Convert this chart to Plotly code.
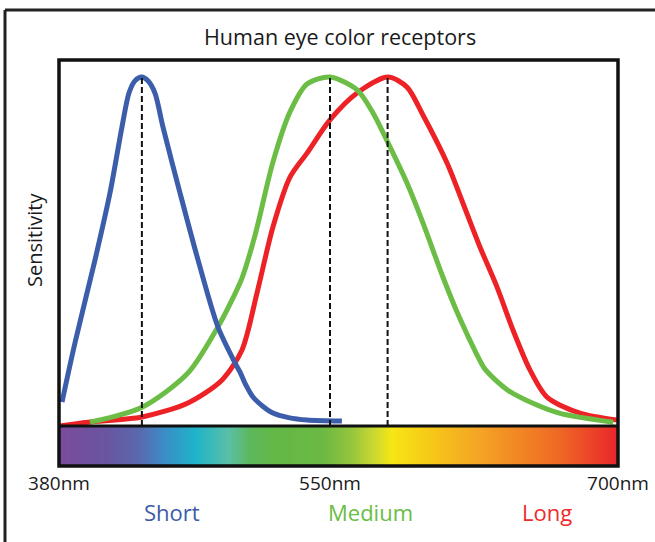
import numpy as np
import plotly.graph_objects as go

# ---------------- data ----------------
title_text = "Human eye color receptors"
tick_nm = [380, 550, 700]
tick_labels = ["380nm", "550nm", "700nm"]
cone_names = ["Short", "Medium", "Long"]
peak_nm = [432, 550, 580]

short_nm = [381.9, 390.0, 402.6, 412.0, 419.5, 423.9, 427.6, 431.9, 435.8, 440.2,
            445.2, 455.9, 467.2, 479.7, 490.4, 493.5, 497.2, 501.7, 508.0, 514.2,
            524.0, 535.6, 556.2]
short_s = [0.069, 0.238, 0.476, 0.668, 0.857, 0.954, 0.989, 1.0, 0.989, 0.954,
           0.857, 0.668, 0.476, 0.284, 0.181, 0.155, 0.118, 0.083, 0.056, 0.037,
           0.024, 0.017, 0.014]

medium_nm = [399.4, 432.1, 460.9, 479.7, 487.3, 494.8, 503.0, 514.2, 524.9, 535.6,
             550.0, 564.1, 572.4, 581.3, 590.1, 598.4, 609.0, 617.3, 626.1,
             630.3, 635.0, 643.3, 652.2, 669.4, 697.5]
medium_s = [0.011, 0.054, 0.152, 0.284, 0.350, 0.424, 0.547, 0.756, 0.900, 0.980,
            1.0, 0.963, 0.897, 0.799, 0.696, 0.582, 0.424, 0.312, 0.209,
            0.166, 0.138, 0.100, 0.074, 0.037, 0.011]

long_nm = [380.6, 398.2, 432.1, 460.9, 482.3, 494.8, 504.2, 514.2, 524.9, 535.6,
           550.0, 564.1, 580.2, 590.1, 598.4, 610.9, 619.2, 628.1, 637.0,
           645.3, 654.2, 663.0, 680.2, 699.5]
long_s = [0.0, 0.011, 0.026, 0.066, 0.132, 0.218, 0.381, 0.570, 0.713, 0.782,
          0.877, 0.954, 1.0, 0.971, 0.891, 0.754, 0.639, 0.513, 0.398,
          0.275, 0.160, 0.083, 0.037, 0.017]

spectrum_nm = [380, 408.9, 429.6, 446.5, 465.3, 486.0, 499.8, 514.2, 545.6, 560.4,
               572.4, 582.3, 602.1, 628.1, 645.3, 668.2, 685.4, 700]
spectrum_colors = ["#7a4b9c", "#6a55a0", "#5a68ad", "#3a8ec8", "#1db4c8", "#5bbfa8",
                   "#5cb85a", "#63b847", "#6cb944", "#93c43d", "#c9d831", "#f6e614",
                   "#f6c818", "#f5a325", "#f28a24", "#ef6a25", "#ec4528", "#e8232a"]

# ---------------- styling ----------------
colors = ["#3c5daa", "#6cbd45", "#ed2226"]
label_colors = ["#3b5ba8", "#6abd45", "#ee2a2b"]
FONT = "Open Sans"
TXT = "#1a1a1a"

W, H = 655, 542
ML, MR, MT, MB = 59, 37, 60, 76
PW, PH = W - ML - MR, H - MT - MB
BAR_H = 40
split = BAR_H / PH


def pos(nm):
    # the picture's wavelength scale is not linear: 550nm sits under the Medium peak
    return np.interp(nm, [380, 550, 700], [0, 271, 559])


def px_x(px):
    return (px - ML) / PW


def px_y(py):
    return (H - MB - py) / PH


fig = go.Figure()

# spectrum strip
sp = pos(spectrum_nm)
scale = [[(v - sp[0]) / (sp[-1] - sp[0]), c] for v, c in zip(sp, spectrum_colors)]
fig.add_trace(go.Heatmap(x=sp, y=[0, 1], z=[list(sp), list(sp)], colorscale=scale,
                         zsmooth="best", showscale=False, hoverinfo="skip",
                         xaxis="x", yaxis="y2"))

# curves
for xs, ys, c, name in [(long_nm, long_s, colors[2], "Long"),
                        (medium_nm, medium_s, colors[1], "Medium"),
                        (short_nm, short_s, colors[0], "Short")]:
    fig.add_trace(go.Scatter(x=pos(xs), y=ys, mode="lines", name=name,
                             line=dict(color=c, width=5, shape="spline", smoothing=0.8),
                             showlegend=False, xaxis="x", yaxis="y"))

# dashed peak markers
for p in peak_nm:
    fig.add_trace(go.Scatter(x=[pos(p), pos(p)], y=[0, 1.0], mode="lines",
                             line=dict(color="#111111", width=2, dash="6px,3px"),
                             showlegend=False, hoverinfo="skip", xaxis="x", yaxis="y"))

shapes = [
    # plot frame
    dict(type="rect", xref="paper", yref="paper", x0=0, x1=1, y0=0, y1=1,
         line=dict(color="#111111", width=3.5)),
    dict(type="line", xref="paper", yref="paper", x0=0, x1=1, y0=split, y1=split,
         line=dict(color="#111111", width=3)),
    # outer frame (left and top)
    dict(type="line", xref="paper", yref="paper", x0=px_x(5), x1=px_x(5),
         y0=px_y(10), y1=px_y(545), line=dict(color="#222222", width=3)),
    dict(type="line", xref="paper", yref="paper", x0=px_x(5), x1=px_x(660),
         y0=px_y(10), y1=px_y(10), line=dict(color="#222222", width=3)),
]

annotations = [
    dict(text=title_text, xref="paper", yref="paper", x=px_x(340), y=px_y(37),
         xanchor="center", yanchor="middle", showarrow=False,
         font=dict(family=FONT, size=21.5, color=TXT)),
    dict(text="Sensitivity", xref="paper", yref="paper", x=px_x(34), y=px_y(240),
         xanchor="center", yanchor="middle", textangle=-90, showarrow=False,
         font=dict(family=FONT, size=20, color=TXT)),
]
for name, cx, lc in zip(cone_names, [172, 370, 547], label_colors):
    annotations.append(dict(text=name, xref="paper", yref="paper", x=px_x(cx), y=px_y(512),
                            xanchor="center", yanchor="middle", showarrow=False,
                            font=dict(family=FONT, size=22, color=lc)))

fig.update_layout(
    width=W, height=H, autosize=False,
    margin=dict(l=ML, r=MR, t=MT, b=MB, pad=0, autoexpand=False),
    paper_bgcolor="white", plot_bgcolor="white",
    xaxis=dict(range=[0, 559], anchor="y2", showgrid=False, zeroline=False, automargin=False,
               showline=False, ticks="", tickvals=list(pos(tick_nm)), ticktext=tick_labels,
               tickfont=dict(family=FONT, size=19, color=TXT), ticklabelstandoff=4),
    yaxis=dict(domain=[split, 1], range=[0, (PH - BAR_H) / 349], visible=False),
    yaxis2=dict(domain=[0, split], range=[0, 1], visible=False),
    shapes=shapes, annotations=annotations,
    showlegend=False,
)

fig.write_html("out.html", config={"displayModeBar": False},
               post_script="document.body.style.margin='0';document.body.style.overflow='hidden';")
